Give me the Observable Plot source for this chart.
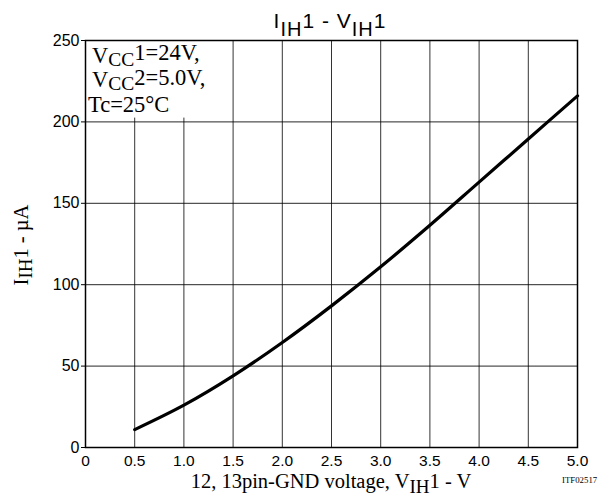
<!DOCTYPE html>
<html><head><meta charset="utf-8">
<script src="https://cdn.jsdelivr.net/npm/d3@7"></script>
<script src="https://cdn.jsdelivr.net/npm/@observablehq/plot@0.6"></script>
<style>body{margin:0;background:#fff} svg{display:block}</style>
</head><body><div id="chart"></div>
<script>
// Data
const voltage = [0.5, 1.0, 1.5, 2.0, 2.5, 3.0, 3.5, 4.0, 4.5, 5.0];
const currentUA = [11, 26, 44, 64.5, 87, 111, 136.5, 163, 189.5, 216];
const xTicks = [0, 0.5, 1.0, 1.5, 2.0, 2.5, 3.0, 3.5, 4.0, 4.5, 5.0];
const xTickLabels = ["0", "0.5", "1.0", "1.5", "2.0", "2.5", "3.0", "3.5", "4.0", "4.5", "5.0"];
const yTicks = [0, 50, 100, 150, 200, 250];
const yTickLabels = ["0", "50", "100", "150", "200", "250"];
// text parts: [text, level] level 1 = subscript, -1 = raised, 0 = normal
const titleParts = [["I", 0], ["IH", 1], ["1 - V", 0], ["IH", 1], ["1", 0]];
const xLabelParts = [["12, 13pin-GND voltage, V", 0], ["IH", 1], ["1 - V", 0]];
const yLabelParts = [["I", 0], ["IH", 1], ["1 - µA", 0]];
const legendLines = [
  [["V", 0], ["CC", 1], ["1=24V,", -1]],
  [["V", 0], ["CC", 1], ["2=5.0V,", -1]],
  [["Tc=25°C", 0]]
];
const codeLabel = "ITF02517";

const table = voltage.map((v, i) => ({v, i: currentUA[i]}));
const SANS = "'Liberation Sans', Arial, Helvetica, sans-serif";
const SERIF = "'Liberation Serif', 'Times New Roman', serif";

const chart = Plot.plot({
  width: 605, height: 504,
  marginLeft: 85, marginRight: 28, marginTop: 40, marginBottom: 57,
  style: {background: "#fff", fontFamily: SANS, color: "#000"},
  x: {domain: [0, 5]},
  y: {domain: [0, 250]},
  marks: [
    Plot.gridX(xTicks, {stroke: "#000", strokeOpacity: 0.8, strokeWidth: 1}),
    Plot.gridY(yTicks, {stroke: "#000", strokeOpacity: 0.85, strokeWidth: 1}),
    Plot.axisX({ticks: xTicks, tickSize: 0, tickPadding: 7, fontSize: 15.5, label: null,
      tickFormat: d => xTickLabels[xTicks.indexOf(d)]}),
    Plot.axisY({ticks: yTicks, tickSize: 4, tickPadding: 2, fontSize: 16, label: null,
      tickFormat: d => yTickLabels[yTicks.indexOf(d)]}),
    Plot.frame({stroke: "#000", strokeWidth: 1.5}),
    Plot.line(table, {x: "v", y: "i", curve: "catmull-rom", stroke: "#000", strokeWidth: 3.2})
  ]
});
document.getElementById("chart").appendChild(chart);

const svg = d3.select(chart);

function rich(sel, parts, size, subSize, subShift, raiseShift) {
  let cur = 0;
  parts.forEach(([t, lvl]) => {
    const target = lvl === 1 ? subShift : (lvl === -1 ? -raiseShift : 0);
    sel.append("tspan").attr("dy", target - cur)
      .attr("font-size", lvl === 1 ? subSize : size).text(t);
    cur = target;
  });
  return sel;
}

// Title
rich(svg.append("text").attr("x", 330).attr("y", 28).attr("text-anchor", "middle")
  .attr("font-family", SANS).attr("letter-spacing", "1px").attr("fill", "#000"),
  titleParts, 21, 20, 8, 0);

// X label
rich(svg.append("text").attr("x", 331).attr("y", 488).attr("text-anchor", "middle")
  .attr("font-family", SERIF).attr("fill", "#000"),
  xLabelParts, 20.5, 19, 5, 0);

// Y label
rich(svg.append("text").attr("transform", "translate(28,245) rotate(-90)")
  .attr("text-anchor", "middle").attr("font-family", SERIF).attr("fill", "#000"),
  yLabelParts, 20.5, 19, 4, 0);

// Code label
svg.append("text").attr("x", 562).attr("y", 483).attr("text-anchor", "start")
  .attr("font-family", SERIF).attr("font-size", 8.8).attr("fill", "#000").text(codeLabel);

// Legend block
const legendG = svg.append("g").attr("text-anchor", "start");
legendLines.forEach((line, k) => {
  rich(legendG.append("text").attr("x", k < 2 ? 92 : 88).attr("y", 63 + k * 24.3).attr("text-anchor", "start")
    .attr("font-family", SERIF).attr("fill", "#000"), line, 22.5, 19.5, 3, 2.6);
});
const bb = legendG.node().getBBox();
const frameNode = chart.querySelector('[aria-label="frame"]');
const bgRect = document.createElementNS("http://www.w3.org/2000/svg", "rect");
bgRect.setAttribute("x", 86);
bgRect.setAttribute("y", bb.y - 2);
bgRect.setAttribute("width", bb.x + bb.width + 16 - 86);
bgRect.setAttribute("height", bb.height + 3);
bgRect.setAttribute("fill", "#fff");
frameNode.parentNode.insertBefore(bgRect, frameNode);
</script>
</body></html>
